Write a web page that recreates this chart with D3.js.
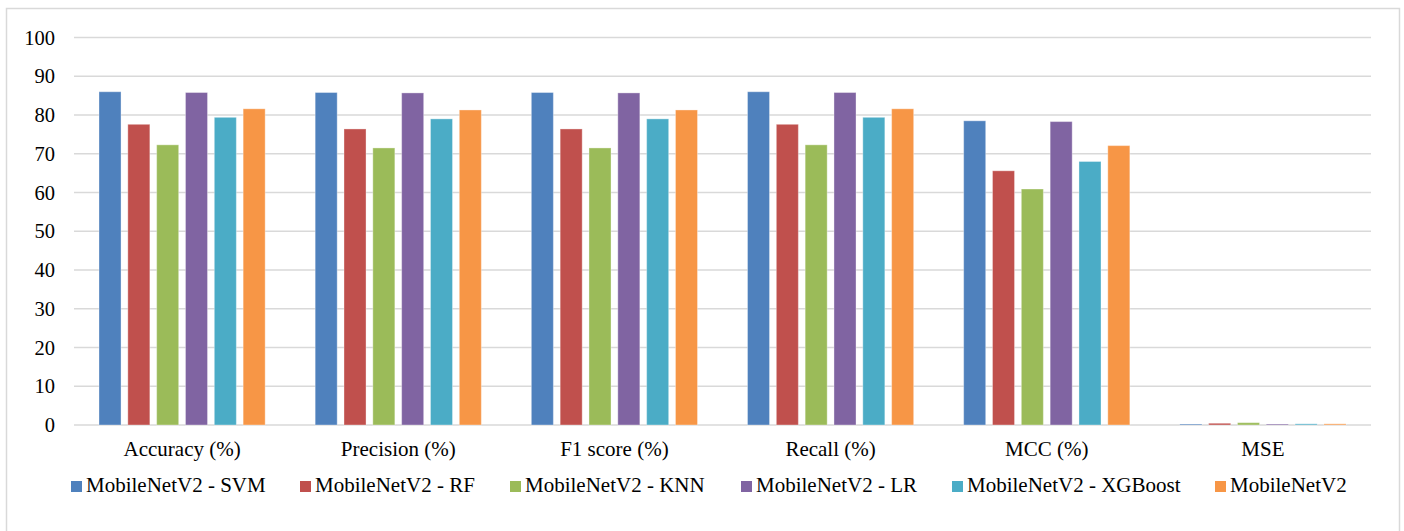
<!DOCTYPE html>
<html>
<head>
<meta charset="utf-8">
<script src="https://cdn.jsdelivr.net/npm/d3@7"></script>
<style>
  html, body { margin: 0; padding: 0; background: #fff; }
  svg { display: block; }
</style>
</head>
<body>
<svg id="chart" width="1404" height="531"></svg>
<script>
const categories = ["Accuracy (%)", "Precision (%)", "F1 score (%)", "Recall (%)", "MCC (%)", "MSE"];
const seriesNames = ["MobileNetV2 - SVM", "MobileNetV2 - RF", "MobileNetV2 - KNN", "MobileNetV2 - LR", "MobileNetV2 - XGBoost", "MobileNetV2"];
const svmValues     = [86.0, 85.8, 85.8, 86.0, 78.5, 0.25];
const rfValues      = [77.6, 76.4, 76.4, 77.6, 65.6, 0.45];
const knnValues     = [72.3, 71.5, 71.5, 72.3, 60.9, 0.6];
const lrValues      = [85.8, 85.7, 85.7, 85.8, 78.3, 0.25];
const xgbValues     = [79.4, 79.0, 79.0, 79.4, 68.0, 0.3];
const mobileValues  = [81.6, 81.3, 81.3, 81.6, 72.1, 0.3];
const yTicks = [0, 10, 20, 30, 40, 50, 60, 70, 80, 90, 100];
const colors = ["#4F81BD", "#C0504D", "#9BBB59", "#8064A2", "#4BACC6", "#F79646"];

const seriesValues = [svmValues, rfValues, knnValues, lrValues, xgbValues, mobileValues];
const FONT = '"Liberation Serif", "Times New Roman", serif';

const svg = d3.select("#chart");

// outer frame
svg.append("rect")
  .attr("x", 6.5).attr("y", 8.5)
  .attr("width", 1393).attr("height", 540)
  .attr("fill", "none").attr("stroke", "#d9d9d9").attr("stroke-width", 1.5);

const plot = { left: 74, right: 1371, top: 37.5, bottom: 425 };

const x0 = d3.scaleBand().domain(categories).range([plot.left, plot.right]).paddingInner(0).paddingOuter(0);
const x1 = d3.scaleBand().domain(d3.range(seriesNames.length))
  .range([25, x0.bandwidth() - 25]).paddingInner(0.236).paddingOuter(0);
const y = d3.scaleLinear().domain([0, 100]).range([plot.bottom, plot.top]);

// gridlines
svg.append("g").selectAll("line").data(yTicks).join("line")
  .attr("x1", plot.left).attr("x2", plot.right)
  .attr("y1", d => y(d)).attr("y2", d => y(d))
  .attr("stroke", "#d9d9d9").attr("stroke-width", 1.5);

// y axis labels
const yAxis = d3.axisLeft(y).tickValues(yTicks).tickSize(0).tickPadding(19);
const yg = svg.append("g").attr("transform", `translate(${plot.left},0)`).call(yAxis);
yg.select(".domain").remove();
yg.selectAll("text").style("font-size", "20.5px").style("font-family", FONT).style("fill", "#000");

// bars
const groups = svg.append("g").selectAll("g").data(categories).join("g")
  .attr("transform", d => `translate(${x0(d)},0)`);
groups.selectAll("rect").data((c, ci) => seriesValues.map((vals, si) => ({ si, v: vals[ci] })))
  .join("rect")
  .attr("x", d => x1(d.si))
  .attr("width", x1.bandwidth())
  .attr("y", d => y(d.v))
  .attr("height", d => y(0) - y(d.v))
  .attr("fill", d => colors[d.si])
  .attr("stroke", "rgba(255,255,255,0.35)")
  .attr("stroke-width", 1);

// x axis labels
const xAxis = d3.axisBottom(x0).tickSize(0).tickPadding(16);
const xg = svg.append("g").attr("transform", `translate(0,${plot.bottom})`).call(xAxis);
xg.select(".domain").remove();
xg.selectAll("text").style("font-size", "21px").style("font-family", FONT).style("fill", "#000");

// legend
const legendX = [71, 300, 510, 741, 952, 1215];
const legendY = 484.6;
const lg = svg.append("g").selectAll("g").data(seriesNames).join("g")
  .attr("transform", (d, i) => `translate(${legendX[i]},${legendY})`);
lg.append("rect").attr("x", 0).attr("y", -3.6).attr("width", 11).attr("height", 11)
  .attr("fill", (d, i) => colors[i]);
lg.append("text").attr("x", 15).attr("y", 0).attr("dy", "0.35em")
  .style("font-size", "21px").style("font-family", FONT).style("fill", "#000").text(d => d);
</script>
</body>
</html>
